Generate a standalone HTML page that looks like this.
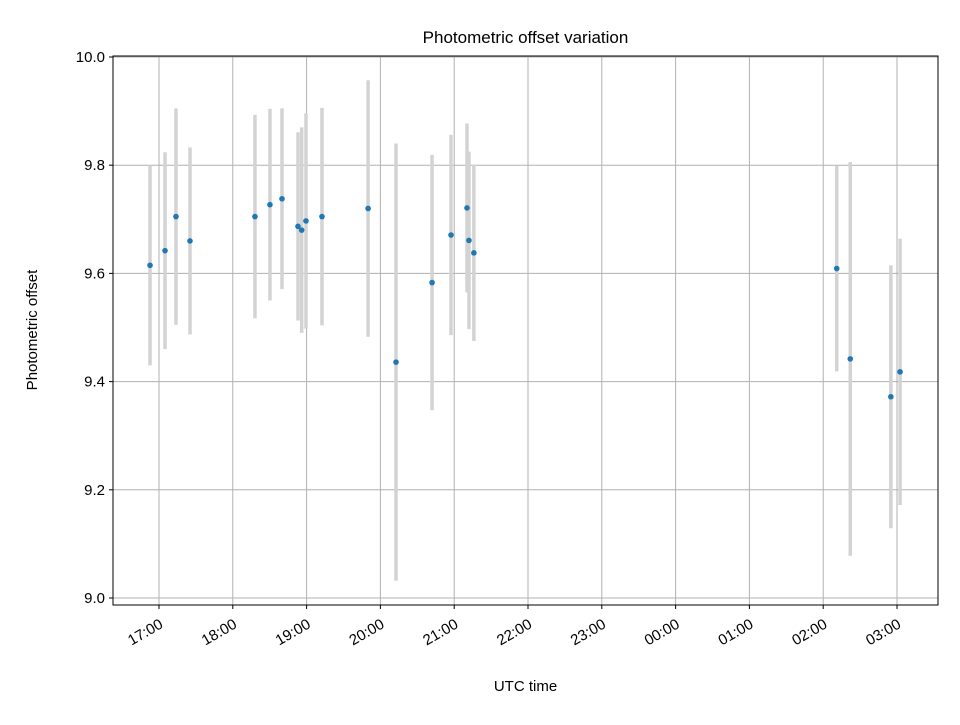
<!DOCTYPE html>
<html><head><meta charset="utf-8"><style>
body{margin:0;background:#fff;font-family:"Liberation Sans","DejaVu Sans",sans-serif}
</style></head><body>
<svg id="chart" width="960" height="720" xmlns="http://www.w3.org/2000/svg"></svg>
<script>
// minutes since 17:00 UTC
const times = [-7.3,4.9,13.8,25.2,78,90.2,100,113,116,119.5,132.5,170,192.7,222,237.4,250.4,252,256,551,562,595,602.5];
const offsets = [9.615,9.642,9.705,9.66,9.705,9.727,9.738,9.687,9.68,9.697,9.705,9.72,9.436,9.583,9.671,9.721,9.661,9.638,9.609,9.442,9.372,9.418];
const errors = [0.185,0.182,0.2,0.173,0.188,0.177,0.167,0.174,0.19,0.199,0.201,0.237,0.404,0.236,0.185,0.156,0.164,0.163,0.19,0.364,0.243,0.246];
const xTickMinutes = [0,60,120,180,240,300,360,420,480,540,600];
const xTickLabels = ["17:00","18:00","19:00","20:00","21:00","22:00","23:00","00:00","01:00","02:00","03:00"];
const yTicks = [9.0,9.2,9.4,9.6,9.8,10.0];
const yTickLabels = ["9.0","9.2","9.4","9.6","9.8","10.0"];

const svg=document.getElementById('chart');const NS='http://www.w3.org/2000/svg';
const L=113,R=938,T=56,B=605;
const X=m=>159+m*73.8/60;
const Y=v=>57+(10-v)*541;
function el(t,a,p){const e=document.createElementNS(NS,t);for(const k in a)e.setAttribute(k,a[k]);(p||svg).appendChild(e);return e;}
xTickMinutes.forEach((m,i)=>{
 const g=el('line',{x1:X(m),x2:X(m),y1:T,y2:B,stroke:'#b0b0b0','stroke-width':1});
 
 
 el('line',{x1:X(m),x2:X(m),y1:B,y2:B+4,stroke:'#000'});
 const ax=X(m)+5, ay=B+22;
 const t=el('text',{x:ax,y:ay,'font-size':15,'text-anchor':'end',transform:`rotate(-30 ${ax} ${ay})`});
 t.textContent=xTickLabels[i];
 
 
});
yTicks.forEach((v,i)=>{
 const g=el('line',{x1:L,x2:R,y1:Y(v),y2:Y(v),stroke:'#b0b0b0','stroke-width':1});
 
 
 el('line',{x1:L-4,x2:L,y1:Y(v),y2:Y(v),stroke:'#000'});
 const t=el('text',{x:L-8,y:Y(v)+5,'font-size':15,'text-anchor':'end'});
 t.textContent=yTickLabels[i];
 
 
});
times.forEach((m,i)=>{
 const e=el('line',{x1:X(m),x2:X(m),y1:Y(offsets[i]+errors[i]),y2:Y(offsets[i]-errors[i]),stroke:'#d3d3d3','stroke-width':3.5});
 
 
});
times.forEach((m,i)=>{
 const c=el('circle',{cx:X(m),cy:Y(offsets[i]),r:2.8,fill:'#1f77b4'});
 
 
});
const f=el('rect',{x:L,y:T,width:R-L,height:B-T,fill:'none',stroke:'#000','stroke-width':1});


const tt=el('text',{x:(L+R)/2,y:43,'font-size':17,'text-anchor':'middle'});tt.textContent='Photometric offset variation';


const xl=el('text',{x:(L+R)/2,y:691,'font-size':15,'text-anchor':'middle'});xl.textContent='UTC time';


const yl=el('text',{x:37,y:330,'font-size':15,'text-anchor':'middle',transform:'rotate(-90 37 330)'});yl.textContent='Photometric offset';


</script>
</body></html>
